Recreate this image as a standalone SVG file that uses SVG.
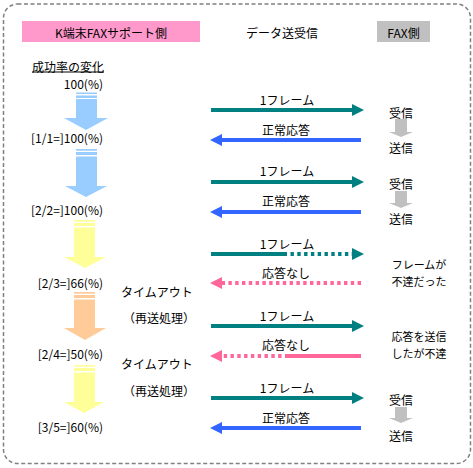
<svg xmlns="http://www.w3.org/2000/svg" width="473" height="468" viewBox="0 0 473 468">
<style>
text{font-family:"Noto Sans CJK JP","Noto Sans",sans-serif;font-size:12px;fill:#000;dominant-baseline:central}
.c{text-anchor:middle}
.r{text-anchor:end}
.s{font-size:11px}
.teal{stroke:#008080;stroke-width:4;fill:none}
.blue{stroke:#3366FF;stroke-width:4;fill:none}
.pink{stroke:#FF6699;stroke-width:4;fill:none}
.dot{stroke-dasharray:3.4 3.4}
.lb{fill:#99CCFF}.ly{fill:#FFFF99}.lo{fill:#FFCC99}
.gr{fill:#C0C0C0}
</style>
<defs>
<marker id="mTeal" viewBox="0 0 12 12" refX="0" refY="6" markerWidth="12" markerHeight="12" markerUnits="userSpaceOnUse" orient="auto"><path d="M0,0 L12,6 L0,12 Z" fill="#008080"/></marker>
<marker id="mBlue" viewBox="0 0 12 12" refX="0" refY="6" markerWidth="12" markerHeight="12" markerUnits="userSpaceOnUse" orient="auto"><path d="M0,0 L12,6 L0,12 Z" fill="#3366FF"/></marker>
<marker id="mPink" viewBox="0 0 12 12" refX="0" refY="6" markerWidth="12" markerHeight="12" markerUnits="userSpaceOnUse" orient="auto"><path d="M0,0 L12,6 L0,12 Z" fill="#FF6699"/></marker>
</defs>
<rect x="3.5" y="4" width="467" height="459.5" rx="14" fill="#fff" stroke="#808080" stroke-width="1.5" stroke-dasharray="4 2.5"/>

<g id="header-k">
<rect x="22" y="21" width="178" height="21" fill="#FF99CC"/>
<text class="c" x="111" y="32">K端末FAXサポート側</text>
</g>
<g id="header-data"><text class="c" x="282" y="32">データ送受信</text></g>
<g id="header-fax">
<rect x="377" y="21" width="53" height="21" fill="#C0C0C0"/>
<text class="c" x="403.5" y="32">FAX側</text>
</g>

<g id="title-rate">
<text class="r" x="104" y="66">成功率の変化</text>
<line x1="32" y1="72" x2="104" y2="72" stroke="#000" stroke-width="1"/>
</g>
<g id="rate0"><text class="r" x="103" y="83">100(%)</text></g>
<g id="rate1"><text class="r" x="103" y="137">[1/1=]100(%)</text></g>
<g id="rate2"><text class="r" x="103" y="209">[2/2=]100(%)</text></g>
<g id="rate3"><text class="r" x="103" y="282">[2/3=]66(%)</text></g>
<g id="rate4"><text class="r" x="103" y="353">[2/4=]50(%)</text></g>
<g id="rate5"><text class="r" x="103" y="426">[3/5=]60(%)</text></g>

<g id="progress">
<g class="lb">
<rect x="76" y="92.5" width="21" height="1.5"/><rect x="76" y="95.5" width="21" height="2.5"/>
<polygon points="76,99 97,99 97,118 108,118 86,130 64,118 76,118"/>
<rect x="76" y="149" width="21" height="1.7"/><rect x="76" y="152" width="21" height="3"/>
<polygon points="76,156.5 97,156.5 97,186 107,186 86,197 65,186 76,186"/>
</g>
<g class="ly">
<rect x="74" y="220" width="21" height="1.7"/><rect x="74" y="223" width="21" height="3"/>
<polygon points="74,227.5 95,227.5 95,257 106,257 85,268 64,257 74,257"/>
</g>
<g class="lo">
<rect x="74" y="292" width="21" height="1.7"/><rect x="74" y="295" width="21" height="3"/>
<polygon points="74,299.5 95,299.5 95,328 106,328 85,340 64,328 74,328"/>
</g>
<g class="ly">
<rect x="74" y="365" width="21" height="1.7"/><rect x="74" y="368" width="21" height="3"/>
<polygon points="74,372.5 95,372.5 95,402 104,402 84,413 64,402 74,402"/>
</g>
</g>

<g id="timeout1"><text class="c" x="157" y="291">タイムアウト</text><text class="c" x="159" y="317">（再送処理）</text></g>
<g id="timeout2"><text class="c" x="157" y="363">タイムアウト</text><text class="c" x="159" y="390">（再送処理）</text></g>

<g id="connectors">
<line class="teal" x1="211" y1="110" x2="352" y2="110" marker-end="url(#mTeal)"/>
<line class="blue" x1="361" y1="140" x2="222" y2="140" marker-end="url(#mBlue)"/>
<line class="teal" x1="211" y1="182" x2="352" y2="182" marker-end="url(#mTeal)"/>
<line class="blue" x1="361" y1="212" x2="222" y2="212" marker-end="url(#mBlue)"/>
<line class="teal" x1="211" y1="254" x2="287" y2="254"/>
<line class="teal dot" x1="290.5" y1="254" x2="352" y2="254" marker-end="url(#mTeal)"/>
<line class="pink dot" x1="361" y1="283" x2="222" y2="283" marker-end="url(#mPink)"/>
<line class="teal" x1="211" y1="326" x2="352" y2="326" marker-end="url(#mTeal)"/>
<line class="pink" x1="361" y1="356" x2="285" y2="356"/>
<line class="pink dot" x1="281.5" y1="356" x2="222" y2="356" marker-end="url(#mPink)"/>
<line class="teal" x1="211" y1="398" x2="352" y2="398" marker-end="url(#mTeal)"/>
<line class="blue" x1="361" y1="428" x2="222" y2="428" marker-end="url(#mBlue)"/>
</g>

<g id="labels">
<text class="c" x="287" y="99">1フレーム</text>
<text class="c" x="286" y="129">正常応答</text>
<text class="c" x="287" y="170">1フレーム</text>
<text class="c" x="286" y="200">正常応答</text>
<text class="c" x="287" y="243">1フレーム</text>
<text class="c" x="286" y="272">応答なし</text>
<text class="c" x="287" y="315">1フレーム</text>
<text class="c" x="286" y="344">応答なし</text>
<text class="c" x="287" y="387">1フレーム</text>
<text class="c" x="286" y="417">正常応答</text>
</g>

<g id="fax1">
<text class="c" x="401" y="112">受信</text>
<polygon class="gr" points="395,119 407,119 407,132 413,132 401,137 389,132 395,132"/>
<text class="c" x="401" y="147">送信</text>
</g>
<g id="fax2">
<text class="c" x="401" y="183">受信</text>
<polygon class="gr" points="395,191 407,191 407,203 413,203 401,208 389,203 395,203"/>
<text class="c" x="401" y="218">送信</text>
</g>
<g id="fax3">
<text class="c s" x="419" y="264">フレームが</text>
<text class="c s" x="419" y="280.5">不達だった</text>
</g>
<g id="fax4">
<text class="c s" x="419" y="336">応答を送信</text>
<text class="c s" x="419" y="352.5">したが不達</text>
</g>
<g id="fax5">
<text class="c" x="401" y="399">受信</text>
<polygon class="gr" points="395,407 407,407 407,418 413,418 401,423 389,418 395,418"/>
<text class="c" x="401" y="435">送信</text>
</g>
</svg>
